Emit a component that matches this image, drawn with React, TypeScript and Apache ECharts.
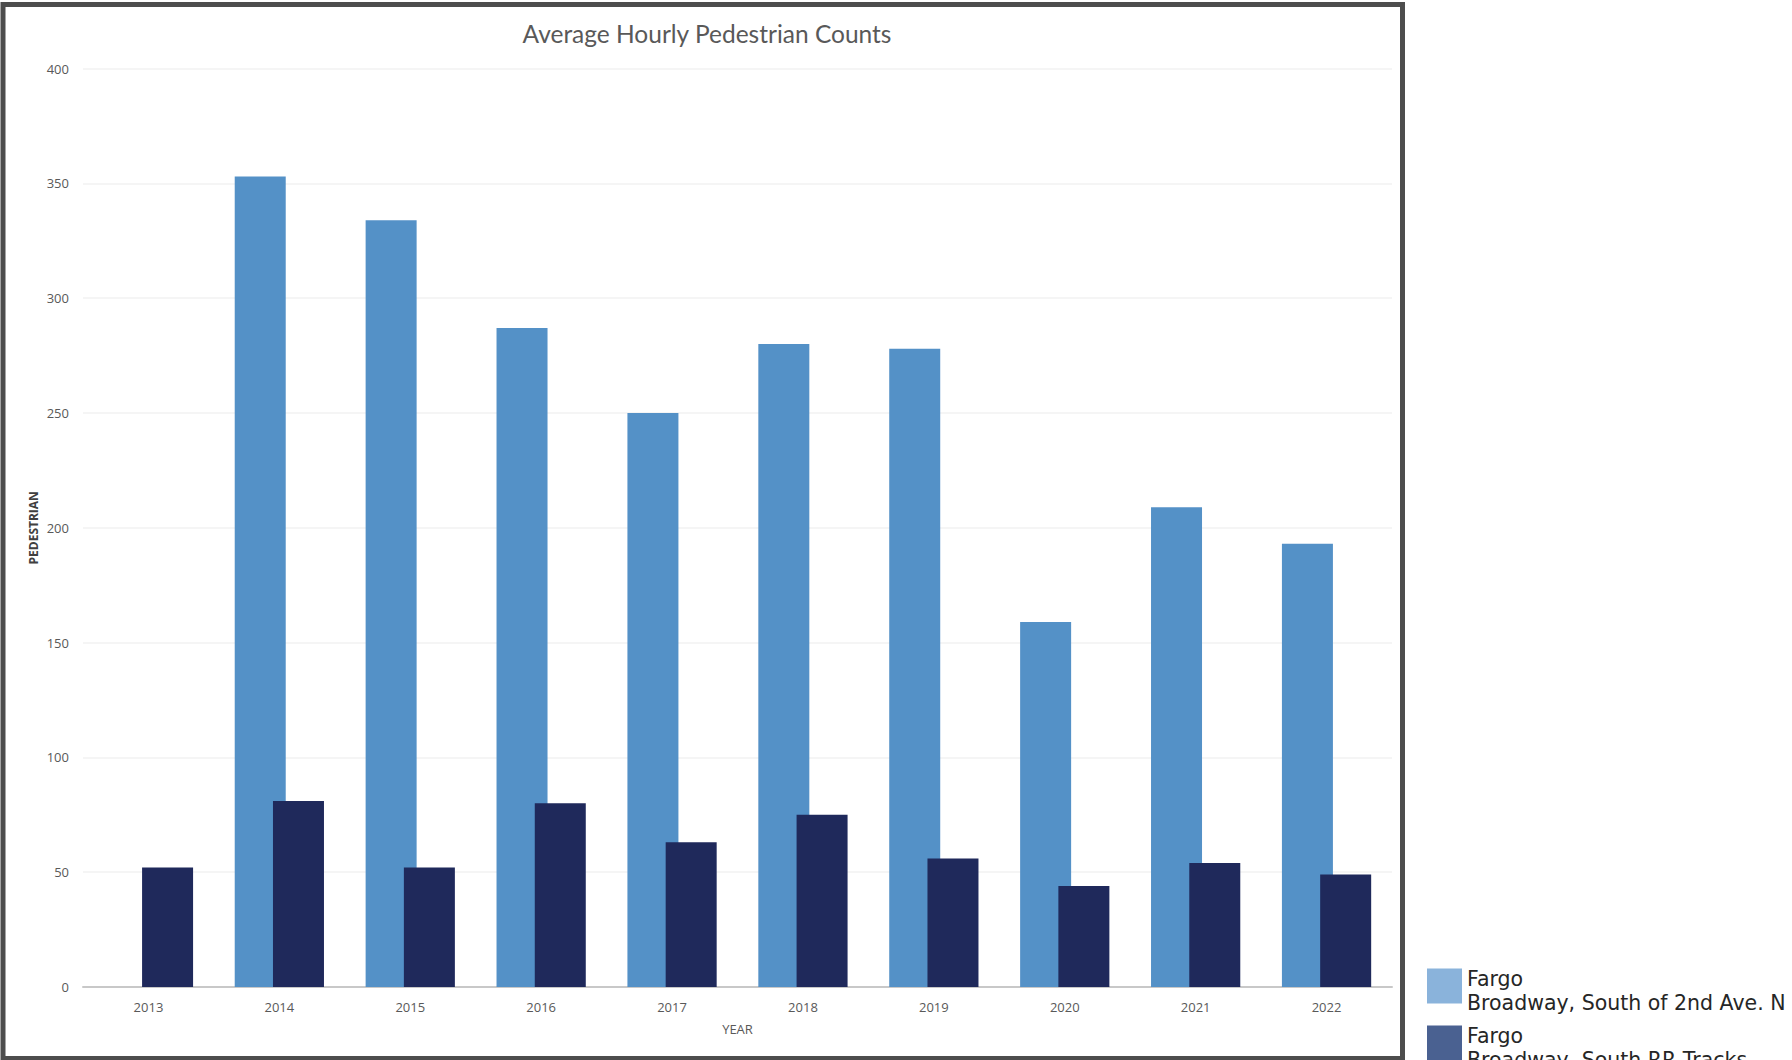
import React, { useEffect, useRef } from "react";
import * as echarts from "echarts";

const years = ["2013", "2014", "2015", "2016", "2017", "2018", "2019", "2020", "2021", "2022"];
const seriesNames = ["Fargo\nBroadway, South of 2nd Ave. N", "Fargo\nBroadway, South RR Tracks"];
const southOf2ndAve: (number | null)[] = [null, 353, 334, 287, 250, 280, 278, 159, 209, 193];
const southRRTracks: number[] = [52, 81, 52, 80, 63, 75, 56, 44, 54, 49];
const yTicks = { min: 0, max: 400, interval: 50 };

const barColors = ["#5491c7", "#1f295b"];
const legendColors = ["#8ab3db", "#4a6191"];

export default function App() {
  const ref = useRef<HTMLDivElement>(null);
  useEffect(() => {
    if (!ref.current) return;
    const chart = echarts.init(ref.current, undefined, { renderer: "svg" });
    const legendFont = { fontFamily: "DejaVu Sans", fontSize: 20.5, lineHeight: 24, color: "#262626" };
    chart.setOption({
      animation: false,
      backgroundColor: "#ffffff",
      title: {
        text: "Average Hourly Pedestrian Counts",
        left: 702,
        top: 16,
        textAlign: "center",
        textStyle: { fontFamily: "Lato", fontSize: 24.5, fontWeight: "normal", color: "#595959" },
      },
      graphic: [
        {
          type: "rect",
          shape: { x: 3, y: 4.5, width: 1399.5, height: 1054 },
          style: { fill: "none", stroke: "#4d4d4d", lineWidth: 5 },
          z: 100,
          silent: true,
        },
      ],
      legend: {
        orient: "vertical",
        left: 1422,
        top: 952.5,
        height: 300,
        itemWidth: 35,
        itemHeight: 35,
        itemGap: 0,
        icon: "rect",
        data: seriesNames.map((n, i) => ({ name: n, itemStyle: { color: legendColors[i] } })),
        formatter: (name: string) =>
          "{s| }\n" + name.split("\n").map((l) => `{t|${l}}`).join("\n"),
        textStyle: {
          ...legendFont,
          rich: {
            s: { height: 9, lineHeight: 9, fontSize: 2 },
            t: { ...legendFont },
          },
        },
      },
      grid: { left: 83, right: 400, top: 68.6, bottom: 73, containLabel: false },
      xAxis: {
        type: "category",
        data: years,
        name: "YEAR",
        nameLocation: "middle",
        nameGap: 35,
        nameTextStyle: { fontFamily: "Open Sans", fontSize: 13, color: "#595959" },
        axisTick: { show: false },
        axisLine: { lineStyle: { color: "#c8c8c8", width: 2 } },
        axisLabel: { fontFamily: "Open Sans", fontSize: 13, color: "#595959", margin: 13 },
      },
      yAxis: {
        type: "value",
        min: yTicks.min,
        max: yTicks.max,
        interval: yTicks.interval,
        name: "PEDESTRIAN",
        nameLocation: "middle",
        nameGap: 44,
        nameMoveOverlap: false,
        nameTextStyle: { fontFamily: "Open Sans", fontSize: 12, fontWeight: "bold", color: "#404040" },
        axisLine: { show: false },
        axisTick: { show: false },
        splitLine: { lineStyle: { color: "#f2f2f2", width: 1.5 } },
        axisLabel: { fontFamily: "Open Sans", fontSize: 13, color: "#595959", margin: 14 },
      },
      series: [
        {
          name: seriesNames[0],
          type: "bar",
          data: southOf2ndAve,
          barWidth: 51,
          barGap: "-25%",
          itemStyle: { color: barColors[0] },
        },
        {
          name: seriesNames[1],
          type: "bar",
          data: southRRTracks,
          barWidth: 51,
          barGap: "-25%",
          itemStyle: { color: barColors[1] },
        },
      ],
    });
    return () => chart.dispose();
  }, []);
  return (
    <div
      ref={ref}
      style={{ position: "fixed", left: 0, top: 0, width: 1792, height: 1060 }}
    />
  );
}
